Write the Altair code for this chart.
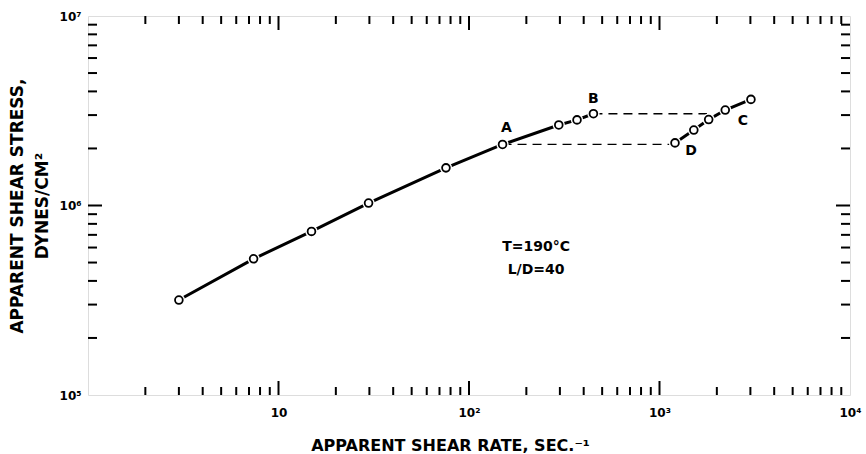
import altair as alt
import pandas as pd

# ---- data ----
rate = [3.0, 7.4, 14.9, 29.7, 75.7, 150, 296, 369, 450, 1206, 1514, 1812, 2214, 3020]
stress = [3.17e5, 5.23e5, 7.3e5, 1.03e6, 1.58e6, 2.1e6, 2.66e6, 2.83e6, 3.05e6,
          2.14e6, 2.5e6, 2.84e6, 3.19e6, 3.63e6]
branch = ["lower"] * 9 + ["upper"] * 5

dash_rate = [150, 1206, 450, 1775]
dash_stress = [2.1e6, 2.1e6, 3.05e6, 3.05e6]
dash_seg = ["A-D", "A-D", "B-C", "B-C"]

point_labels = ["A", "B", "C", "D"]
label_index = [5, 8, 13, 9]
label_dx = [4, 0, -8, 16]
label_dy = [-16, -15, 22, 8]

note_lines = ["T=190°C", "L/D=40"]
note_rate = [225, 225]
note_stress = [6.04e5, 4.57e5]

x_major = [10, 100, 1000]
x_minor = [m * 10 ** k for k in range(4) for m in range(2, 10)]
y_major = [1e6]
y_minor = [m * 10 ** k for k in (5, 6) for m in range(2, 10)]

W, H = 762, 379
FONT = "DejaVu Sans"

xs = alt.Scale(type="log", domain=[1, 10000], nice=False)
ys = alt.Scale(type="log", domain=[1e5, 1e7], nice=False)

xaxis = alt.Axis(
    values=[10, 100, 1000, 10000],
    labelExpr="datum.value < 50 ? '10' : datum.value < 500 ? '10²' : datum.value < 5000 ? '10³' : '10⁴'",
    tickSize=0, domain=False, grid=False,
    labelFont=FONT, labelFontSize=12, labelFontWeight="bold", labelPadding=12,
    labelFlush=False, labelOverlap=False,
    title="APPARENT SHEAR RATE, SEC.⁻¹", titleFont=FONT, titleFontSize=16,
    titleFontWeight="bold", titlePadding=19, titleX=362,
)
yaxis = alt.Axis(
    values=[1e5, 1e6, 1e7],
    labelExpr="datum.value < 5e5 ? '10⁵' : datum.value < 5e6 ? '10⁶' : '10⁷'",
    tickSize=0, domain=False, grid=False,
    labelFont=FONT, labelFontSize=12, labelFontWeight="bold", labelPadding=7,
    labelFlush=False, labelOverlap=False,
    title=["APPARENT SHEAR STRESS,", "DYNES/CM²"], titleFont=FONT, titleFontSize=17,
    titleFontWeight="bold", titlePadding=8, titleLineHeight=25,
)


def X(field):
    return alt.X(field, type="quantitative", scale=xs, axis=xaxis)


def Y(field):
    return alt.Y(field, type="quantitative", scale=ys, axis=yaxis)


df = pd.DataFrame({"rate": rate, "stress": stress, "branch": branch})
dash_df = pd.DataFrame({"rate": dash_rate, "stress": dash_stress, "seg": dash_seg})
notes_df = pd.DataFrame({"rate": note_rate, "stress": note_stress, "txt": note_lines})

base = alt.Chart(df)

lines = base.mark_line(color="black", strokeWidth=3).encode(
    x=X("rate"), y=Y("stress"), detail="branch:N", order="rate:Q")
dashes = alt.Chart(dash_df).mark_line(color="black", strokeWidth=1.3, strokeDash=[9, 6]).encode(
    x=X("rate"), y=Y("stress"), detail="seg:N")
halo = base.mark_point(shape="circle", size=150, filled=True, color="white", opacity=1).encode(
    x=X("rate"), y=Y("stress"))
pts = base.mark_point(shape="circle", size=60, fill="white", stroke="black", strokeWidth=1.8,
                      opacity=1, filled=False).encode(x=X("rate"), y=Y("stress"))

letters = []
for lab, i, dx, dy in zip(point_labels, label_index, label_dx, label_dy):
    ldf = pd.DataFrame({"rate": [rate[i]], "stress": [stress[i]], "txt": [lab]})
    letters.append(alt.Chart(ldf).mark_text(font=FONT, fontSize=14, fontWeight="bold",
                                            color="black", dx=dx, dy=dy).encode(
        x=X("rate"), y=Y("stress"), text="txt:N"))

notes = alt.Chart(notes_df).mark_text(font=FONT, fontSize=14, fontWeight="bold", color="black").encode(
    x=X("rate"), y=Y("stress"), text="txt:N")


def xticks(vals, length):
    d = pd.DataFrame({"v": vals})
    bottom = alt.Chart(d).mark_rule(color="black", strokeWidth=2).encode(
        x=X("v"), y=alt.value(H), y2=alt.value(H - length))
    top = alt.Chart(d).mark_rule(color="black", strokeWidth=2).encode(
        x=X("v"), y=alt.value(0), y2=alt.value(length))
    return [bottom, top]


def yticks(vals, length):
    d = pd.DataFrame({"v": vals})
    left = alt.Chart(d).mark_rule(color="black", strokeWidth=2).encode(
        y=Y("v"), x=alt.value(0), x2=alt.value(length))
    right = alt.Chart(d).mark_rule(color="black", strokeWidth=2).encode(
        y=Y("v"), x=alt.value(W), x2=alt.value(W - length))
    return [left, right]


ticks = xticks(x_minor, 8) + xticks(x_major, 14) + yticks(y_minor, 9) + yticks(y_major, 14)

chart = alt.layer(
    *ticks, dashes, lines, halo, pts, *letters, notes
).properties(
    width=W, height=H,
    autosize=alt.AutoSizeParams(type="none"),
    padding={"left": 88, "top": 16, "right": 16, "bottom": 59},
).configure_view(
    stroke="black", strokeWidth=2
).configure(background="white")

chart.save("out.html", embed_options={"renderer": "svg", "actions": False})
